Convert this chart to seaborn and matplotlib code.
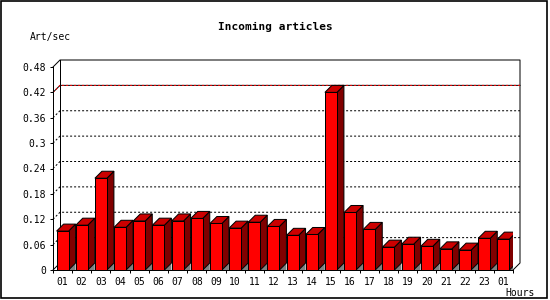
import matplotlib
matplotlib.use("Agg")
import matplotlib.pyplot as plt
import matplotlib.patches as mpatches
import seaborn as sns
import numpy as np
import pandas as pd

# ---- data ----
hour_labels = ["01", "02", "03", "04", "05", "06", "07", "08", "09", "10", "11", "12",
               "13", "14", "15", "16", "17", "18", "19", "20", "21", "22", "23", "01"]
art_per_sec = [0.092, 0.106, 0.217, 0.101, 0.116, 0.106, 0.116, 0.122, 0.110, 0.099,
               0.113, 0.103, 0.082, 0.084, 0.420, 0.136, 0.096, 0.054, 0.061, 0.056,
               0.050, 0.047, 0.075, 0.073]
y_ticks = [0, 0.06, 0.12, 0.18, 0.24, 0.3, 0.36, 0.42, 0.48]
y_tick_labels = ["0", "0.06", "0.12", "0.18", "0.24", "0.3", "0.36", "0.42", "0.48"]
title = "Incoming articles"
y_title = "Art/sec"
x_title = "Hours"

slot = list(range(len(hour_labels)))
df = pd.DataFrame({"slot": slot, "value": art_per_sec})

W, H, DPI = 550, 300, 100
fig = plt.figure(figsize=(W / DPI, H / DPI), dpi=DPI)
fig.patch.set_facecolor("white")

# axes = front plane
ax_left, ax_right, ax_top, ax_bot = 53, 513, 67, 270
ax = fig.add_axes([ax_left / W, (H - ax_bot) / H, (ax_right - ax_left) / W, (ax_bot - ax_top) / H])
ax.set_facecolor("none")

PX = 0.72  # one pixel in points
mono = "DejaVu Sans Mono"

sns.barplot(data=df, x="slot", y="value", color="#FF0000", saturation=1, width=0.626,
            edgecolor="black", linewidth=PX, errorbar=None, ax=ax, zorder=3)

ax.set_xlim(-0.5, len(slot) - 0.5)
ax.set_ylim(y_ticks[0], y_ticks[-1])

# depth in data units (7 px)
depth_px = 7
dx = depth_px / ((ax_right - ax_left) / len(slot))
dy = depth_px / ((ax_bot - ax_top) / (y_ticks[-1] - y_ticks[0]))

# 3D sides/tops of bars
for p in list(ax.patches):
    x0, w, h = p.get_x(), p.get_width(), p.get_height()
    x1 = x0 + w
    shadow = mpatches.Polygon([(x1, 0), (x1 + dx, dy), (x1 + dx, 0)], closed=True,
                              facecolor="#808080", edgecolor="none", zorder=2.5)
    side = mpatches.Polygon([(x1, 0), (x1 + dx, dy), (x1 + dx, h + dy), (x1, h)], closed=True,
                            facecolor="#800000", edgecolor="black", linewidth=PX, zorder=2.8)
    top = mpatches.Polygon([(x0, h), (x0 + dx, h + dy), (x1 + dx, h + dy), (x1, h)], closed=True,
                           facecolor="#CC0000", edgecolor="black", linewidth=PX, zorder=2.8)
    for a in (shadow, side, top):
        ax.add_patch(a)

xl, xr = -0.5, len(slot) - 0.5
# gridlines on back wall
for v in y_ticks:
    if v == y_ticks[-1]:
        ax.plot([xl, xl + dx, xr + dx, xr + dx, xr], [v, v + dy, v + dy, dy, 0],
                color="black", lw=PX, clip_on=False, zorder=1)
        ax.plot([xl + dx, xl + dx], [dy, v + dy], color="black", lw=PX, clip_on=False, zorder=1)
        continue
    if v == 0:
        ax.plot([xl, xl + dx], [0, dy], color="black", lw=PX, clip_on=False, zorder=1)
        continue
    if v == 0.42:
        ax.plot([xl, xl + dx, xr + dx], [v, v + dy, v + dy], color="black", lw=PX,
                clip_on=False, zorder=1)
        ax.plot([xl, xl + dx, xr + dx], [v, v + dy, v + dy], color="#FF0000", lw=PX,
                dashes=(2, 2), clip_on=False, zorder=1.1)
    else:
        ax.plot([xl, xl + dx, xr + dx], [v, v + dy, v + dy], color="black", lw=PX,
                dashes=(2, 2), clip_on=False, zorder=1)

# spines
for s in ("top", "right"):
    ax.spines[s].set_visible(False)
for s in ("left", "bottom"):
    ax.spines[s].set_linewidth(PX)
    ax.spines[s].set_color("black")
    ax.spines[s].set_zorder(4)

# ticks
ax.set_yticks(y_ticks)
ax.set_yticklabels(y_tick_labels, fontfamily=mono, fontsize=7)
ax.tick_params(axis="y", length=3 * PX, width=PX, pad=3, direction="out")
ax.set_xticks(slot)
ax.set_xticklabels(hour_labels, fontfamily=mono, fontsize=7)
ax.set_xticks([s - 0.5 for s in slot] + [slot[-1] + 0.5], minor=True)
ax.tick_params(axis="x", which="major", length=0, pad=5)
ax.tick_params(axis="x", which="minor", length=3 * PX, width=PX, direction="out")
ax.set_xlabel("")
ax.set_ylabel("")

# texts
fig.text(0.5, 1 - 27 / H, title, ha="center", va="center", fontfamily=mono,
         fontweight="bold", fontsize=8)
fig.text(30 / W, 1 - 37 / H, y_title, ha="left", va="center", fontfamily=mono, fontsize=7)
fig.text(505 / W, 1 - 292.5 / H, x_title, ha="left", va="center", fontfamily=mono, fontsize=7)

# outer frame
frame = mpatches.Rectangle((1 / W, 2 / H), 545.5 / W, 297 / H, transform=fig.transFigure,
                           fill=False, edgecolor="black", linewidth=1.2)
fig.patches.append(frame)

fig.savefig("out.png", dpi=DPI, facecolor="white")
